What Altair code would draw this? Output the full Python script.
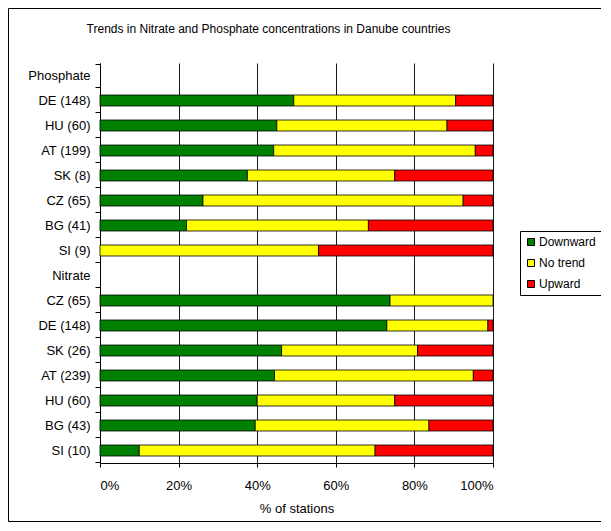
import altair as alt
import pandas as pd

title_text = "Trends in Nitrate and Phosphate concentrations in Danube countries"
group_names = ["Phosphate", "Nitrate"]
groups = ["Phosphate"] * 7 + ["Nitrate"] * 7
countries = ["DE (148)", "HU (60)", "AT (199)", "SK (8)", "CZ (65)", "BG (41)", "SI (9)",
             "CZ (65)", "DE (148)", "SK (26)", "AT (239)", "HU (60)", "BG (43)", "SI (10)"]
downward = [49.3, 45.0, 44.2, 37.5, 26.2, 22.0, 0.0,
            73.8, 73.0, 46.2, 44.4, 40.0, 39.5, 10.0]
no_trend = [41.2, 43.3, 51.3, 37.5, 66.2, 46.3, 55.6,
            26.2, 25.7, 34.6, 50.6, 35.0, 44.2, 60.0]
upward = [9.5, 11.7, 4.5, 25.0, 7.6, 31.7, 44.4,
          0.0, 1.3, 19.2, 5.0, 25.0, 16.3, 30.0]
trends = ["Downward", "No trend", "Upward"]
trend_colors = ["#008000", "#FFFF00", "#FF0000"]
x_ticks = [0, 0.2, 0.4, 0.6, 0.8, 1.0]

# row keys (unique) and domain order including group header rows
keys = [f"{g}|{c}" for g, c in zip(groups, countries)]
domain = []
for g in group_names:
    domain.append(g)
    domain.extend([k for k, gg in zip(keys, groups) if gg == g])

rows = []
for k, d, n, u in zip(keys, downward, no_trend, upward):
    for i, (t, v) in enumerate(zip(trends, [d, n, u])):
        if v > 0:
            rows.append({"row": k, "trend": t, "value": v, "ord": i})
df = pd.DataFrame(rows)

FONT = "Arial, Liberation Sans, sans-serif"

bars = alt.Chart(df).mark_bar(size=11, stroke="black", strokeWidth=0.8).encode(
    x=alt.X("value:Q", stack="normalize",
            scale=alt.Scale(domain=[0, 1], nice=False),
            axis=alt.Axis(format="%", values=x_ticks, title="% of stations",
                          grid=True, gridColor="black", gridOpacity=0.9,
                          domainColor="black", tickColor="black", tickSize=4,
                          labelFontSize=13, titleFontSize=13, titleFontWeight="normal",
                          labelPadding=12, titlePadding=10, labelColor="black", titleColor="black")),
    y=alt.Y("row:N", sort=domain, scale=alt.Scale(domain=domain),
            axis=alt.Axis(title=None, tickBand="extent", tickSize=5, tickColor="black",
                          domainColor="black", labelFontSize=13, labelPadding=5,
                          labelColor="black", labelLimit=200,
                          labelExpr="indexof(datum.label, '|') >= 0 ? split(datum.label, '|')[1] : datum.label")),
    color=alt.Color("trend:N", scale=alt.Scale(domain=trends, range=trend_colors),
                    legend=alt.Legend(title=None, orient="none", legendX=420, legendY=168,
                                      symbolType="square", symbolSize=49,
                                      symbolStrokeColor="black", symbolStrokeWidth=1,
                                      symbolOpacity=1, labelFontSize=12, labelColor="black",
                                      rowPadding=9, padding=5, labelOffset=2,
                                      strokeColor="black", fillColor="white", cornerRadius=0)),
    order=alt.Order("ord:Q"),
)

frame_df = pd.DataFrame({"f": [0]})
frame = alt.Chart(frame_df).mark_rect(fillOpacity=0, stroke="black", strokeWidth=1).encode(
    x=alt.value(-91.5), x2=alt.value(620), y=alt.value(-54.5), y2=alt.value(458.5)
)

chart = alt.layer(frame, bars).properties(
    width=393, height=400,
    title=alt.TitleParams(title_text, fontSize=12, fontWeight="normal", font=FONT,
                          dx=-28, offset=-28, color="black"),
    padding={"left": 92, "top": 55, "right": 108, "bottom": 60},
    autosize=alt.AutoSizeParams(type="none"),
).configure(font=FONT).configure_view(stroke=None)

chart.save("out.html", embed_options={"renderer": "svg", "actions": False})
